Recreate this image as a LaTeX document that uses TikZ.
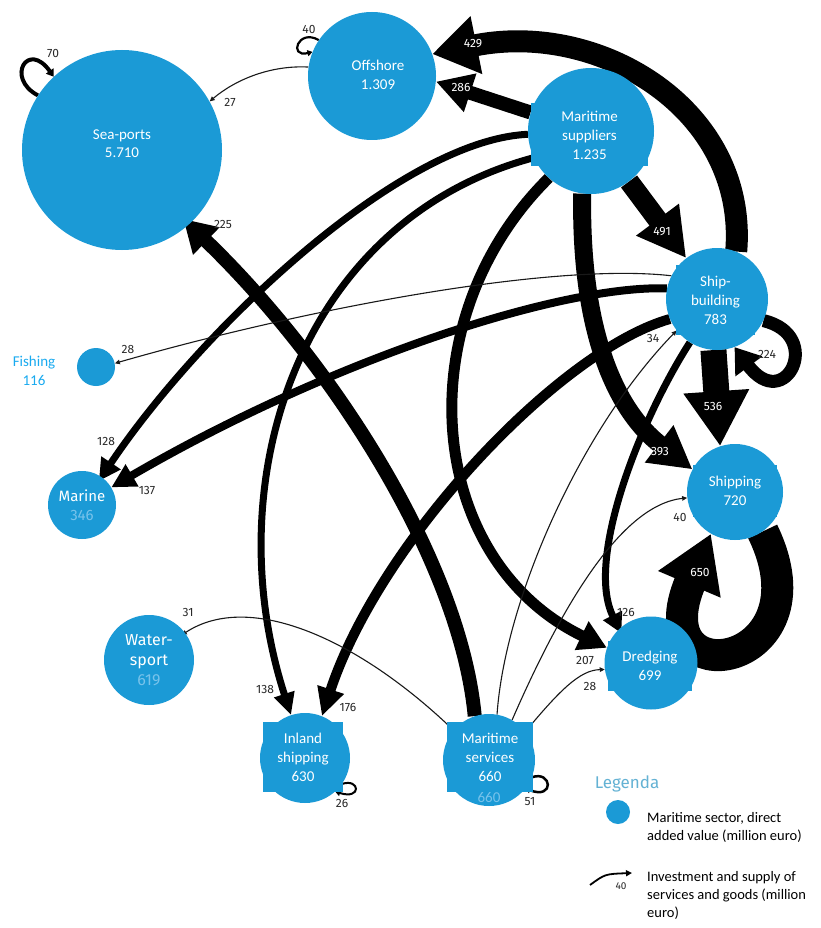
\documentclass[tikz,border=0pt]{standalone}
\usepackage{fontspec}
\setmainfont{Carlito}
\newfontfamily\labfont{Fira Sans}
\usetikzlibrary{arrows.meta}
\pgfdeclarelayer{background}
\pgfsetlayers{background,main}
\definecolor{sectorblue}{RGB}{27,154,214}
\definecolor{paleblue}{RGB}{120,195,235}
\definecolor{fishblue}{RGB}{25,170,240}
\definecolor{legendblue}{RGB}{100,178,212}
\definecolor{labgray}{RGB}{40,40,40}
\begin{document}
\begin{tikzpicture}[x=1pt,y=-1pt,
  sector/.style={circle,fill=sectorblue,draw=none,inner sep=0pt,text=white,align=center},
  tbox/.style={rectangle,fill=sectorblue,text=white,align=center,inner sep=0pt,font=\fontsize{15pt}{19pt}\selectfont},
  ctext/.style={text=white,align=center,inner sep=0pt,font=\fontsize{15pt}{18pt}\selectfont},
  flow/.style={draw=black,line cap=butt},
  thinflow/.style={draw=black!90,line width=1.1pt,-{Triangle[length=5pt,width=4.5pt]}},
  loopflow/.style={draw=black,-{Triangle[length=5pt,width=6pt]}},
  wlab/.style={text=white,font=\labfont\fontsize{12pt}{12pt}\selectfont,inner sep=0pt},
  blab/.style={text=labgray,font=\labfont\fontsize{12pt}{12pt}\selectfont,inner sep=0pt},
  legtext/.style={text=black,align=left,inner sep=0pt,font=\fontsize{14.5pt}{18pt}\selectfont}
]
\useasboundingbox (0,0) rectangle (821,928);

% ---------- sectors ----------
\node[sector,minimum size=200pt] (sea) at (122,150) {};
\node[ctext] (seaT) at (122,144) {Sea-ports\\5.710};
\node[sector,minimum size=128pt] (off) at (372,76) {};
\node[ctext,font=\fontsize{15pt}{19pt}\selectfont] (offT) at (378,75) {Offshore\\1.309};
\node[sector,minimum size=126pt] (msup) at (591,131) {};
\node[tbox,minimum width=117pt,minimum height=63pt] (msupT) at (589.5,135) {Maritime\\suppliers\\1.235};
\node[sector,minimum size=102pt] (sb) at (717,299) {};
\node[tbox,minimum width=79pt,minimum height=70pt] (sbT) at (715.5,300) {Ship-\\building\\783};
\node[sector,minimum size=96pt] (ship) at (735,492) {};
\node[tbox,minimum width=84pt,minimum height=52pt] (shipT) at (735,491) {Shipping\\720};
\node[sector,minimum size=93pt] (dre) at (651,663) {};
\node[tbox,minimum width=84pt,minimum height=50pt] (dreT) at (650,666) {Dredging\\699};
\node[sector,minimum size=92pt] (mser) at (489,760) {};
\node[text=paleblue,inner sep=0pt,font=\fontsize{15pt}{18pt}\selectfont] (mserG) at (489,797) {660};
\node[tbox,minimum width=86pt,minimum height=70pt] (mserT) at (490,757) {Maritime\\services\\660};
\node[sector,minimum size=90pt] (inl) at (305,758) {};
\node[tbox,minimum width=80pt,minimum height=70pt] (inlT) at (303,757) {Inland\\shipping\\630};
\node[sector,minimum size=90pt,font=\labfont\fontsize{16pt}{20pt}\selectfont] (ws) at (149,660) {Water-\\sport\\\textcolor{paleblue}{619}};
\node[sector,minimum size=68pt,font=\labfont\fontsize{15pt}{19pt}\selectfont] (mar) at (82,505) {Marine\\\textcolor{paleblue}{346}};
\node[sector,minimum size=38pt] (fish) at (96,367) {};
\node[text=fishblue,align=center,inner sep=0pt,font=\fontsize{15pt}{19pt}\selectfont] (fishT) at (34,371) {Fishing\\116};

% ---------- flows ----------
\begin{pgfonlayer}{background}
\fill[white] (0,0) rectangle (821,928);
% 429 ship-building -> offshore
\draw[flow,line width=22pt,-{Triangle[length=45pt,width=56pt]}] (sb.68) .. controls (748,110) and (600,20) .. (off.20);
% 286 suppliers -> offshore
\draw[flow,line width=14pt,-{Triangle[length=36pt,width=38pt]}] (msup.163) -- (off.-5);
% 491 suppliers -> ship-building
\draw[flow,line width=20pt,-{Triangle[length=48pt,width=50pt]}] (msup.-53) -- (sb.127);
% 393 suppliers -> shipping
\draw[flow,line width=18pt,-{Triangle[length=42pt,width=44pt]}] (msup.-98) .. controls (580,330) and (615,410) .. (ship.152);
% 536 ship-building -> shipping
\draw[flow,line width=26pt,-{Triangle[length=55pt,width=62pt]}] (sb.-94) -- (ship.108);
% 224 ship-building loop
\draw[flow,line width=13pt,-{Triangle[length=24pt,width=32pt]}] (sb.-25) .. controls (825,335) and (785,415) .. (sb.-70);
% 650 shipping loop
\draw[flow,line width=32pt,-{Triangle[length=55pt,width=64pt]}] (ship.-55) .. controls (830,670) and (640,700) .. (ship.-120);
% 207 suppliers -> dredging
\draw[flow,line width=11pt,-{Triangle[length=28pt,width=30pt]}] (msup.-132) .. controls (405,320) and (425,560) .. (dre.161);
% 126 ship-building -> dredging
\draw[flow,line width=7pt,shorten >=-5pt,-{Triangle[length=20pt,width=20pt]}] (sb.-122) .. controls (640,420) and (585,560) .. (dre.133);
% 225 services -> sea-ports
\draw[flow,line width=14pt,shorten >=-8pt,-{Triangle[length=32pt,width=36pt]}] (mser.108) .. controls (460,560) and (330,360) .. (sea.-48);
% 176 ship-building -> inland shipping
\draw[flow,line width=10pt,-{Triangle[length=28pt,width=26pt]}] (sb.203) .. controls (560,350) and (380,540) .. (inl.68);
% 138 suppliers -> inland shipping
\draw[flow,line width=7pt,-{Triangle[length=22pt,width=20pt]}] (msup.205) .. controls (300,220) and (215,480) .. (inl.108);
% 137 ship-building -> marine
\draw[flow,line width=8pt,-{Triangle[length=24pt,width=24pt]}] (sb.168) .. controls (560,285) and (330,360) .. (mar.31);
% 128 suppliers -> marine
\draw[flow,line width=7pt,shorten >=-5pt,-{Triangle[length=22pt,width=22pt]}] (msup.183) .. controls (400,140) and (200,330) .. (mar.55);
% 28 ship-building -> fishing
\draw[thinflow] (sb.153) .. controls (550,262) and (300,310) .. (fish.11);
% 40 services -> shipping
\draw[thinflow] (mser.60) .. controls (560,610) and (620,505) .. (ship.187);
% 28 services -> dredging
\draw[thinflow] (mser.38) .. controls (560,690) and (580,670) .. (dre.-172);
% 34 services -> ship-building
\draw[thinflow] (mser.80) .. controls (505,600) and (580,430) .. (sb.-142);
% 31 services -> watersport
\draw[thinflow,shorten >=-4pt] (mser.140) .. controls (360,640) and (250,590) .. (ws.37);
% 27 offshore -> sea-ports
\draw[thinflow] (off.172) .. controls (270,65) and (235,80) .. (sea.29);
% self loops
\draw[loopflow,line width=4pt,-{Triangle[length=7pt,width=9pt]}] (sea.147) .. controls (5,78) and (28,40) .. (sea.133);
\draw[loopflow,line width=2.2pt] (off.146) .. controls (298,28) and (288,58) .. (off.158);
\draw[loopflow,line width=2pt] (inl.-35) .. controls (360,778) and (362,800) .. (inl.-48);
\draw[loopflow,line width=2.5pt] (mser.-22) .. controls (552,770) and (555,800) .. (mser.-38);
\end{pgfonlayer}

% ---------- flow labels ----------
\node[wlab] (l429) at (473,44) {429};
\node[wlab] (l286) at (461,87) {286};
\node[wlab] (l491) at (662,232) {491};
\node[wlab] (l393) at (660,452) {393};
\node[wlab] (l536) at (713,406) {536};
\node[wlab] (l650) at (700,572) {650};
\node[blab] (l224) at (767,354) {224};
\node[blab] (l207) at (585,660) {207};
\node[blab] (l126) at (626,612) {126};
\node[blab] (l28d) at (590,686) {28};
\node[blab] (l40s) at (680,517) {40};
\node[blab] (l34) at (653,338) {34};
\node[blab] (l225) at (223,224) {225};
\node[blab] (l27) at (230,102) {27};
\node[blab] (l40o) at (309,30) {40};
\node[blab] (l70) at (53,53) {70};
\node[blab] (l28f) at (128,349) {28};
\node[blab] (l128) at (106,441) {128};
\node[blab] (l137) at (147,490) {137};
\node[blab] (l31) at (188,612) {31};
\node[blab] (l138) at (265,689) {138};
\node[blab] (l176) at (348,707) {176};
\node[blab] (l26) at (342,803) {26};
\node[blab] (l51) at (530,802) {51};

% ---------- legend ----------
\node[text=legendblue,inner sep=0pt,font=\labfont\fontsize{17pt}{20pt}\selectfont] (legT) at (627,784) {Legenda};
\node[sector,minimum size=24pt] (legc) at (618,812) {};
\node[legtext,anchor=north west] (leg1) at (647,812) {Maritime sector, direct\\added value (million euro)};
\coordinate (la) at (590,885);
\coordinate (lb) at (632,873);
\draw[flow,line width=1.8pt,-{Triangle[length=6pt,width=6pt]}] (la) .. controls (605,874) .. (lb);
\node[blab,font=\labfont\fontsize{10pt}{10pt}\selectfont] (leg40) at (621,886) {40};
\node[legtext,anchor=north west] (leg2) at (647,871) {Investment and supply of\\services and goods (million\\euro)};
\end{tikzpicture}
\end{document}
